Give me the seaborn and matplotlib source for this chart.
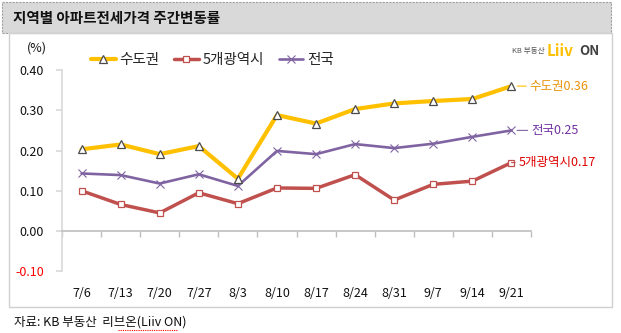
import numpy as np
import pandas as pd
import matplotlib
matplotlib.use('Agg')
import matplotlib.pyplot as plt
import seaborn as sns
from matplotlib.patches import Rectangle
from matplotlib.lines import Line2D

weeks = ['7/6', '7/13', '7/20', '7/27', '8/3', '8/10', '8/17', '8/24', '8/31', '9/7', '9/14', '9/21']
capital = [0.203, 0.215, 0.191, 0.211, 0.130, 0.288, 0.267, 0.303, 0.317, 0.323, 0.328, 0.36]
metro5 = [0.100, 0.066, 0.045, 0.095, 0.068, 0.107, 0.106, 0.140, 0.077, 0.116, 0.124, 0.17]
nation = [0.143, 0.139, 0.118, 0.141, 0.112, 0.199, 0.191, 0.216, 0.206, 0.217, 0.234, 0.25]
names = ['수도권', '5개광역시', '전국']
yticks = [-0.10, 0.00, 0.10, 0.20, 0.30, 0.40]

sns.set_theme(style='white')
plt.rcParams['font.family'] = ['Noto Sans CJK KR', 'DejaVu Sans']

W, H = 621, 333
fig = plt.figure(figsize=(W / 100, H / 100), dpi=100)
fig.patch.set_facecolor('white')

def fx(x):
    return x / W

def fy(y):
    return 1 - y / H

# title bar
fig.add_artist(Rectangle((fx(2), fy(33)), 609 / W, 31 / H, transform=fig.transFigure,
                         facecolor='#D9D9D9', edgecolor='#A0A0A0', linestyle=(0, (2, 1)), lw=0.8))
fig.text(fx(13), fy(18), '지역별 아파트전세가격 주간변동률', fontsize=10.5, fontweight='bold',
         va='center', ha='left', color='#111111')
# chart panel
fig.add_artist(Rectangle((fx(9), fy(307)), 603 / W, 274 / H, transform=fig.transFigure,
                         facecolor='none', edgecolor='#D0D0D0', lw=1))

ax = fig.add_axes([62 / W, 1 - 271.3 / H, 469 / W, (271.3 - 70) / H])
ax.set_facecolor('none')

df = pd.DataFrame({'idx': np.arange(len(weeks)), 'week': weeks,
                   names[0]: capital, names[1]: metro5, names[2]: nation})

sns.lineplot(data=df, x='idx', y=names[1], ax=ax, color='#C0504D', lw=2.5, marker='s',
             markersize=4.5, markerfacecolor='white', markeredgecolor='#C0504D',
             markeredgewidth=0.9, zorder=3)
sns.lineplot(data=df, x='idx', y=names[2], ax=ax, color='#8064A2', lw=1.9, marker='x',
             markersize=6, markeredgecolor='#8064A2', markeredgewidth=0.8, zorder=4)
sns.lineplot(data=df, x='idx', y=names[0], ax=ax, color='#FFC000', lw=3.0, marker='^',
             markersize=6, markerfacecolor='white', markeredgecolor='#4A4A4A',
             markeredgewidth=0.9, zorder=5)

ax.set_xlim(-0.5, len(weeks) - 0.5)
ax.set_ylim(-0.10, 0.40)
ax.set_xlabel('')
ax.set_ylabel('')

for s in ['top', 'right']:
    ax.spines[s].set_visible(False)
ax.spines['left'].set_color('#D9D9D9')
ax.spines['left'].set_linewidth(1.2)
ax.spines['bottom'].set_position(('data', 0))
ax.spines['bottom'].set_color('#BFBFBF')
ax.spines['bottom'].set_linewidth(1.2)

ax.set_yticks(yticks)
ax.set_yticklabels([f'{v:.2f}' for v in yticks])
for lab, v in zip(ax.get_yticklabels(), yticks):
    lab.set_color('#FF0000' if v < 0 else '#111111')
ax.tick_params(axis='y', left=True, length=4, color='#D9D9D9', labelsize=9, pad=9)

ax.set_xticks(np.arange(len(weeks)))
ax.set_xticklabels(weeks)
ax.set_xticks(np.arange(len(weeks) + 1) - 0.5, minor=True)
ax.tick_params(axis='x', which='major', length=0, labelsize=9, pad=40, labelcolor='#111111')
ax.tick_params(axis='x', which='minor', bottom=True, length=4, color='#BFBFBF', width=1)

# end labels
ends = [(names[0], capital[-1], '#E8920A', '#FFC000', 13),
        (names[2], nation[-1], '#7030A0', '#8064A2', 14),
        (names[1], metro5[-1], '#E00000', '#C0504D', 5)]
for name, val, tc, lc, off in ends:
    ax.annotate(f'{name}{val:.2f}', xy=(len(weeks) - 1, val), xytext=(off, 0),
                textcoords='offset points', va='center', ha='left', fontsize=9, color=tc,
                arrowprops=dict(arrowstyle='-', color=lc, lw=0.8, shrinkA=0, shrinkB=4),
                annotation_clip=False)

handles = [Line2D([], [], color='#FFC000', lw=3.0, marker='^', markersize=6,
                  markerfacecolor='white', markeredgecolor='#4A4A4A', markeredgewidth=0.9),
           Line2D([], [], color='#C0504D', lw=2.5, marker='s', markersize=4.5,
                  markerfacecolor='white', markeredgecolor='#C0504D', markeredgewidth=0.9),
           Line2D([], [], color='#8064A2', lw=1.9, marker='x', markersize=6,
                  markeredgecolor='#8064A2', markeredgewidth=0.8)]
leg = ax.legend(handles, names, loc='center left', bbox_to_anchor=(fx(85), fy(60)),
                bbox_transform=fig.transFigure, ncol=3, frameon=False, fontsize=10.5,
                handlelength=1.7, handletextpad=0.25, columnspacing=1.0, borderaxespad=0)

fig.text(fx(37), fy(48), '(%)', ha='center', va='center', fontsize=9, color='#111111')

# logo
fig.text(fx(512), fy(51), 'KB 부동산', fontsize=5.5, color='#555555', va='center')
fig.text(fx(547), fy(51), 'Liiv', fontsize=11, fontweight='bold', color='#FFC000', va='center')
fig.text(fx(579), fy(51), 'ON', fontsize=9.5, fontweight='bold', color='#404040', va='center')

# source
fig.text(fx(14), fy(322), '자료: KB 부동산  리브온(Liiv ON)', fontsize=9, va='center', color='#111111')
fig.add_artist(Line2D([fx(118), fx(178)], [fy(330), fy(330)], transform=fig.transFigure,
                      color='#FF0000', lw=0.8, linestyle=(0, (1, 1))))

fig.savefig('out.png', dpi=100)
